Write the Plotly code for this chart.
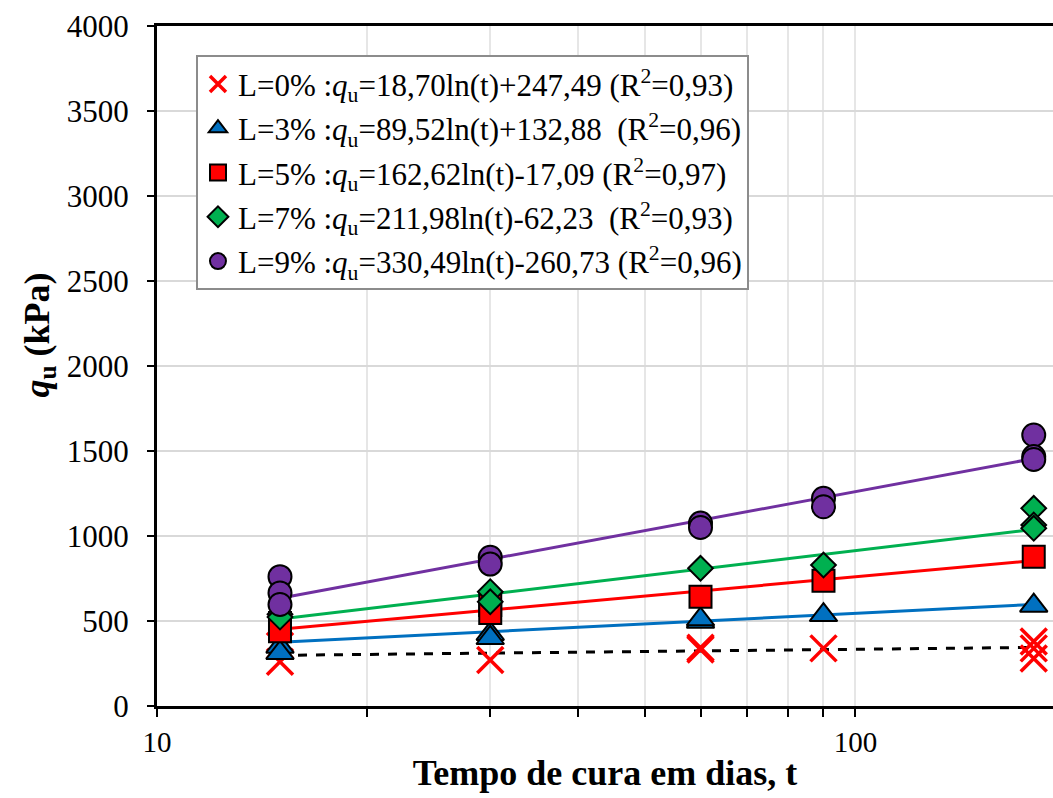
import numpy as np
import plotly.graph_objects as go

# ---------------- data ----------------
t_days = [15, 30, 60, 90, 180]

# measured qu (kPa), several specimens per curing time
t_L0 = [15, 15, 30, 60, 60, 90, 180, 180, 180]
q_L0 = [260, 355, 270, 343, 333, 339, 380, 339, 280]

t_L3 = [15, 15, 30, 30, 60, 60, 90, 180]
q_L3 = [349, 312, 424, 400, 496, 510, 535, 590]

t_L5 = [15, 15, 30, 30, 60, 90, 180]
q_L5 = [488, 440, 594, 547, 643, 737, 878]

t_L7 = [15, 15, 30, 30, 60, 90, 180, 180, 180]
q_L7 = [540, 523, 672, 613, 810, 829, 1163, 1065, 1045]

t_L9 = [15, 15, 15, 30, 30, 60, 60, 90, 90, 180, 180, 180]
q_L9 = [761, 665, 597, 875, 835, 1076, 1050, 1222, 1172, 1594, 1467, 1450]

# logarithmic trend lines qu = a ln(t) + b (as drawn)
fit_a = [18.70, 89.52, 162.62, 211.98, 330.49]
fit_b = [247.49, 132.88, 11.0, -62.23, -260.73]

legend_labels = [
    "L=0% :<i>q</i><sub>u</sub>=18,70ln(t)+247,49 (R<sup>2</sup>=0,93)",
    "L=3% :<i>q</i><sub>u</sub>=89,52ln(t)+132,88\u00a0\u00a0(R<sup>2</sup>=0,96)",
    "L=5% :<i>q</i><sub>u</sub>=162,62ln(t)-17,09 (R<sup>2</sup>=0,97)",
    "L=7% :<i>q</i><sub>u</sub>=211,98ln(t)-62,23\u00a0\u00a0(R<sup>2</sup>=0,93)",
    "L=9% :<i>q</i><sub>u</sub>=330,49ln(t)-260,73 (R<sup>2</sup>=0,96)",
]

x_tickvals = [10, 20, 30, 40, 50, 60, 70, 80, 90, 100]
x_ticktext = ["10", "", "", "", "", "", "", "", "", "100"]
y_tickvals = [0, 500, 1000, 1500, 2000, 2500, 3000, 3500, 4000]

# ---------------- styles ----------------
line_colors = ["#000000", "#0070C0", "#FF0000", "#00B050", "#7030A0"]
line_dash = ["dash", "solid", "solid", "solid", "solid"]
FONT = "Liberation Serif, Times New Roman, serif"

fig = go.Figure()

# trend lines
for i in range(5):
    tt = np.exp(np.linspace(np.log(t_days[0]), np.log(t_days[-1]), 30))
    qq = fit_a[i] * np.log(tt) + fit_b[i]
    fig.add_trace(go.Scatter(
        x=tt, y=qq, mode="lines",
        line=dict(color=line_colors[i], width=3, dash=line_dash[i]),
        showlegend=False, hoverinfo="skip"))

series = [
    (t_L0, q_L0, dict(symbol="x-thin", size=26, color="#FF0000",
                      line=dict(color="#FF0000", width=3.5))),
    (t_L3, q_L3, dict(symbol="triangle-up", size=24, color="#0070C0",
                      line=dict(color="#000000", width=2))),
    (t_L5, q_L5, dict(symbol="square", size=22, color="#FF0000",
                      line=dict(color="#000000", width=2))),
    (t_L7, q_L7, dict(symbol="diamond", size=19, color="#00B050",
                      line=dict(color="#000000", width=2))),
    (t_L9, q_L9, dict(symbol="circle", size=23, color="#7030A0",
                      line=dict(color="#000000", width=2))),
]
for i, (tx, qy, mk) in enumerate(series):
    fig.add_trace(go.Scatter(
        x=tx, y=qy, mode="markers", marker=mk, name=legend_labels[i],
        legendgroup="g%d" % i))

fig.add_annotation(
    text="<b><i>q</i><sub>u</sub> (kPa)</b>", textangle=-90,
    xref="paper", yref="paper", x=-0.131, y=0.5456,
    xanchor="center", yanchor="middle", showarrow=False,
    font=dict(family=FONT, size=36, color="black"))

fig.update_layout(
    width=1053, height=798,
    margin=dict(l=157, r=0, t=26, b=92),
    paper_bgcolor="white", plot_bgcolor="white",
    font=dict(family=FONT, size=30, color="black"),
    legend=dict(
        x=0.0435, y=0.957, xanchor="left", yanchor="top",
        bgcolor="white", bordercolor="#8c8c8c", borderwidth=2,
        font=dict(family=FONT, size=31, color="black"),
        traceorder="grouped", tracegroupgap=1,
        itemsizing="trace", itemwidth=30,
    ),
    xaxis=dict(
        type="log", range=[1, np.log10(191.8)], automargin=False,
        tickvals=x_tickvals, ticktext=x_ticktext,
        ticks="outside", ticklen=8, tickwidth=2, tickcolor="black",
        showline=True, linecolor="black", linewidth=3, mirror=True,
        showgrid=True, gridcolor="#e6e6e6", gridwidth=2,
        zeroline=False,
        tickfont=dict(family=FONT, size=29),
        title=dict(text="<b>Tempo de cura em dias, t</b>",
                   font=dict(family=FONT, size=36), standoff=4),
    ),
    yaxis=dict(
        range=[0, 4000], tickvals=y_tickvals, automargin=False,
        ticks="outside", ticklen=7, tickwidth=2, tickcolor="black",
        showline=True, linecolor="black", linewidth=3,
        showgrid=True, gridcolor="#d9d9d9", gridwidth=2,
        zeroline=False,
        tickfont=dict(family=FONT, size=31),
        ticklabelstandoff=12,
    ),
)

fig.write_html(
    "out.html",
    config={"displayModeBar": False},
    post_script="document.body.style.margin='0';document.body.style.overflow='hidden';")
